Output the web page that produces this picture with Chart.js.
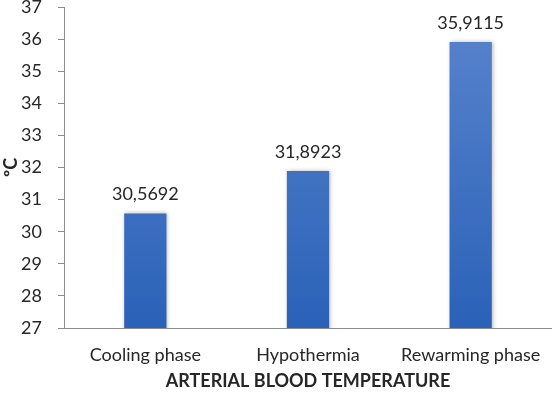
<!DOCTYPE html>
<html>
<head>
<meta charset="utf-8">
<script src="https://cdn.jsdelivr.net/npm/chart.js@4"></script>
<style>
  html, body { margin: 0; padding: 0; background: #fff; }
  #wrap { width: 552px; height: 394px; position: relative; }
</style>
</head>
<body>
<div id="wrap"><canvas id="grafica"></canvas></div>
<script>
// datos
var categorias = ["Cooling phase", "Hypothermia", "Rewarming phase"];
var temperaturas = [30.5692, 31.8923, 35.9115];
var tituloX = "ARTERIAL BLOOD TEMPERATURE";
var tituloY = "ºC";

var fuente = "Lato, 'Open Sans', sans-serif";

// sombra suave detras de las barras
var sombraBarras = {
        id: 'sombraBarras',
        beforeDatasetsDraw: function (chart) {
                var ctx = chart.ctx;
                ctx.save();
                ctx.shadowColor = 'rgba(0,0,0,0.28)';
                ctx.shadowBlur = 4;
                ctx.shadowOffsetX = 1;
                ctx.shadowOffsetY = 0;
        },
        afterDatasetsDraw: function (chart) {
                chart.ctx.restore();
        }
};

// escribe el valor encima de cada barra, con coma decimal
var etiquetasBarras = {
        id: 'etiquetasBarras',
        afterDatasetsDraw: function (chart) {
                var ctx = chart.ctx;
                var meta = chart.getDatasetMeta(0);
                ctx.save();
                ctx.font = "18px " + fuente;
                ctx.fillStyle = "#262626";
                ctx.textAlign = "center";
                ctx.textBaseline = "alphabetic";
                meta.data.forEach(function (barra, i) {
                        var txt = temperaturas[i].toFixed(4).replace('.', ',');
                        ctx.fillText(txt, barra.x, barra.y - 13);
                });
                ctx.restore();
        }
};

function degradado(context) {
        var area = context.chart.chartArea;
        if (!area) return '#3a6cbf';
        var g = context.chart.ctx.createLinearGradient(0, area.top, 0, area.bottom);
        g.addColorStop(0, '#5a84cd');
        g.addColorStop(1, '#2a62b8');
        return g;
}

new Chart(document.getElementById('grafica').getContext('2d'), {
        type: 'bar',
        data: {
                labels: categorias,
                datasets: [{
                        data: temperaturas,
                        backgroundColor: degradado,
                        borderWidth: 0,
                        categoryPercentage: 1,
                        barPercentage: 0.26
                }]
        },
        options: {
                responsive: true,
                maintainAspectRatio: false,
                animation: false,
                layout: { padding: { top: 0, right: 0, left: 0, bottom: 0 } },
                plugins: {
                        legend: { display: false },
                        tooltip: { enabled: false }
                },
                scales: {
                        x: {
                                afterFit: function (s) { s.height = 66; s.paddingLeft = 0; s.paddingRight = 0; },
                                grid: { display: false },
                                border: { display: true, color: '#8c8c8c', width: 1 },
                                ticks: { color: '#262626', padding: 8, font: { family: fuente, size: 18 }, maxRotation: 0 },
                                title: { display: true, text: tituloX, color: '#262626', padding: { top: 0, bottom: 2 },
                                         font: { family: fuente, size: 18, weight: 'bold' } }
                        },
                        y: {
                                min: 27,
                                max: 37,
                                afterFit: function (s) { s.width = 64; s.paddingTop = 7; s.paddingBottom = 0; },
                                grid: { drawOnChartArea: false, drawTicks: true, tickLength: 6, color: '#8c8c8c' },
                                border: { display: true, color: '#8c8c8c', width: 1 },
                                ticks: { stepSize: 1, color: '#262626', padding: 16, font: { family: fuente, size: 18 } },
                                title: { display: true, text: tituloY, color: '#262626', padding: 0,
                                         font: { family: fuente, size: 18, weight: 'bold' } }
                        }
                }
        },
        plugins: [sombraBarras, etiquetasBarras]
});
</script>
</body>
</html>
